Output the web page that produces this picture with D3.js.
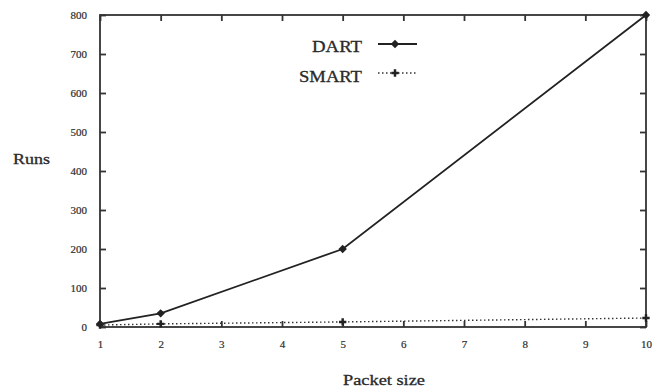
<!DOCTYPE html>
<meta charset="utf-8">
<style>
  body { margin: 0; background: #fff; }
  text { font-family: "Liberation Serif", "DejaVu Serif", serif; fill: #2a2a2a; }
</style>
<body>
<svg id="chart" width="657" height="390"></svg>
<script src="https://d3js.org/d3.v7.min.js"></script>
<script>
  // data
  const packetSizes = [1, 2, 5, 10];
  const dartRuns = [8, 35, 200, 800];
  const smartRuns = [5, 8, 13, 23];
  const xTicks = [1, 2, 3, 4, 5, 6, 7, 8, 9, 10];
  const yTicks = [0, 100, 200, 300, 400, 500, 600, 700, 800];

  const svg = d3.select("#chart");
  const plotLeft = 100, plotRight = 646, plotTop = 15, plotBottom = 327;

  const x = d3.scaleLinear().domain([1, 10]).range([plotLeft, plotRight]);
  const y = d3.scaleLinear().domain([0, 800]).range([plotBottom, plotTop]);

  // frame
  svg.append("rect")
    .attr("x", plotLeft).attr("y", plotTop)
    .attr("width", plotRight - plotLeft).attr("height", plotBottom - plotTop)
    .attr("fill", "none").attr("stroke", "#333").attr("stroke-width", 1.8);

  // axes with inward ticks
  svg.append("g").attr("transform", `translate(0,${plotBottom})`)
    .call(d3.axisBottom(x).tickValues(xTicks).tickSize(-6).tickPadding(13).tickFormat(d3.format("d")))
    .call(g => g.select(".domain").remove());
  svg.append("g").attr("transform", `translate(0,${plotTop})`)
    .call(d3.axisTop(x).tickValues(xTicks).tickSize(-6).tickFormat(""))
    .call(g => g.select(".domain").remove());
  svg.append("g").attr("transform", `translate(${plotLeft},0)`)
    .call(d3.axisLeft(y).tickValues(yTicks).tickSize(-6).tickPadding(13).tickFormat(d3.format("d")))
    .call(g => g.select(".domain").remove());
  svg.append("g").attr("transform", `translate(${plotRight},0)`)
    .call(d3.axisRight(y).tickValues(yTicks).tickSize(-6).tickFormat(""))
    .call(g => g.select(".domain").remove());

  svg.selectAll(".tick line").attr("stroke", "#333").attr("stroke-width", 1.8);
  svg.selectAll(".tick text").attr("fill", "#333").style("font-size", "11px")
    .style("font-family", "'Liberation Serif', serif")
    .attr("stroke", "#333").attr("stroke-width", 0.2);

  // axis titles
  svg.append("text").attr("x", 13).attr("y", 164).style("font-size", "14px")
    .attr("textLength", 37).attr("lengthAdjust", "spacingAndGlyphs")
    .attr("stroke", "#2a2a2a").attr("stroke-width", 0.3).text("Runs");
  svg.append("text").attr("x", 343).attr("y", 385)
    .style("font-size", "15px").attr("textLength", 82).attr("lengthAdjust", "spacingAndGlyphs")
    .attr("stroke", "#2a2a2a").attr("stroke-width", 0.3).text("Packet size");

  const line = d3.line().x(d => x(d[0])).y(d => y(d[1]));

  const dartPts = packetSizes.map((p, i) => [p, dartRuns[i]]);
  const smartPts = packetSizes.map((p, i) => [p, smartRuns[i]]);

  svg.append("path").datum(smartPts).attr("d", line)
    .attr("fill", "none").attr("stroke", "#333").attr("stroke-width", 1.4)
    .attr("stroke-dasharray", "1.5,2.5");
  svg.append("path").datum(dartPts).attr("d", line)
    .attr("fill", "none").attr("stroke", "#222").attr("stroke-width", 1.8);

  const dot = d3.symbol().type(d3.symbolDiamond2).size(45);
  const cross = d3.symbol().type(d3.symbolCross).size(30);

  svg.selectAll(".dart").data(dartPts).join("path")
    .attr("transform", d => `translate(${x(d[0])},${y(d[1])})`)
    .attr("d", dot).attr("fill", "#222");
  svg.selectAll(".smart").data(smartPts).join("path")
    .attr("transform", d => `translate(${x(d[0])},${y(d[1])})`)
    .attr("d", cross).attr("fill", "#222");

  // legend
  const legend = svg.append("g");
  legend.append("text").attr("x", 312).attr("y", 52)
    .style("font-size", "16px").attr("textLength", 50).attr("lengthAdjust", "spacingAndGlyphs")
    .attr("stroke", "#2a2a2a").attr("stroke-width", 0.3).text("DART");
  legend.append("line").attr("x1", 378).attr("x2", 417).attr("y1", 44).attr("y2", 44)
    .attr("stroke", "#222").attr("stroke-width", 1.8);
  legend.append("path").attr("transform", "translate(395,44)").attr("d", dot).attr("fill", "#222");

  legend.append("text").attr("x", 299).attr("y", 82)
    .style("font-size", "16px").attr("textLength", 63).attr("lengthAdjust", "spacingAndGlyphs")
    .attr("stroke", "#2a2a2a").attr("stroke-width", 0.3).text("SMART");
  legend.append("line").attr("x1", 378).attr("x2", 417).attr("y1", 73).attr("y2", 73)
    .attr("stroke", "#333").attr("stroke-width", 1.4).attr("stroke-dasharray", "1.5,2.5");
  legend.append("path").attr("transform", "translate(395,73)").attr("d", cross).attr("fill", "#222");
</script>
</body>
